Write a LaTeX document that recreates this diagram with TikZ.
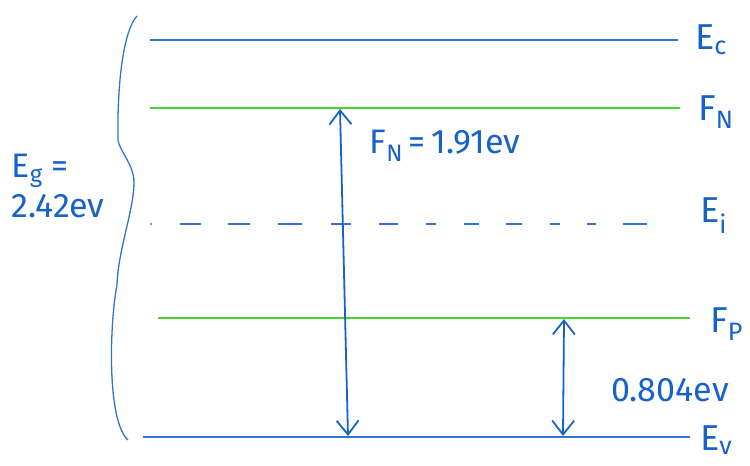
\documentclass[tikz,border=0pt]{standalone}
\usepackage{fontspec}
\setmainfont{Fira Sans}
\usetikzlibrary{arrows.meta}
\definecolor{bandblue}{RGB}{47,116,208}
\definecolor{inkblue}{RGB}{22,98,200}
\definecolor{levelgreen}{RGB}{72,214,46}
\tikzset{
  band/.style={bandblue, line width=1.5pt},
  fermi/.style={levelgreen, line width=1.5pt},
  gap/.style={inkblue, line width=1.8pt, {Straight Barb[length=14pt,width=22pt,line width=1.8pt]}-{Straight Barb[length=14pt,width=22pt,line width=1.8pt]}},
  lbl/.style={inkblue, font=\fontsize{36}{38}\selectfont, inner sep=0pt},
  val/.style={inkblue, font=\fontsize{34}{36}\selectfont, inner sep=0pt}
}
\newcommand{\lowsub}[1]{\textsubscript{#1}}
\begin{document}
\begin{tikzpicture}[x=1pt,y=-1pt]
\useasboundingbox (0,0) rectangle (750,466);

% energy levels
\draw[band] (150,40) -- (678,40);
\draw[fermi] (150,108) -- (680,108);
\fill[bandblue] (151,224) circle (1.1pt);
\foreach \a/\b in {180/201,228/250,278/302,331/351,379/398,426/436,464/479,506/522,550/560,587/596,623/647}
  \draw[band] (\a,224) -- (\b,224);
\draw[fermi] (158,318) -- (690,318);
\draw[band] (143,437) -- (690,437);

% level labels
\node[lbl, anchor=west] (ec) at (695,40) {E\lowsub{c}};
\node[lbl, anchor=west] (fn) at (698,112) {F\lowsub{N}};
\node[lbl, anchor=west] (ei) at (700,216) {E\lowsub{i}};
\node[lbl, anchor=west] (fp) at (710,324) {F\lowsub{P}};
\node[lbl, anchor=west] (ev) at (700,440) {E\lowsub{v}};

% arrow end points on the levels
\coordinate (fnTop) at (340,109);
\coordinate (evLow) at (348,436);
\coordinate (fpTop) at (564,319);
\coordinate (evRight) at (563,436);

\draw[gap] (fnTop) -- (evLow);
\draw[gap] (fpTop) -- (evRight);

\node[val] (fnval) at (445,146) {F\lowsub{N}\,=\,1.91ev};
\node[val] (fpval) at (670,390) {0.804ev};

% band gap brace
\draw[bandblue, line width=1.3pt] (137,16)
  .. controls (124,30) and (117,80) .. (118,140)
  .. controls (119,150) and (134,165) .. (134,182)
  .. controls (134,210) and (118,250) .. (117,285)
  .. controls (110,320) and (106,420) .. (128,440);

\node[val, align=left] (eg) at (58,186) {E\lowsub{g} =\\[4pt]2.42ev};
\end{tikzpicture}
\end{document}
